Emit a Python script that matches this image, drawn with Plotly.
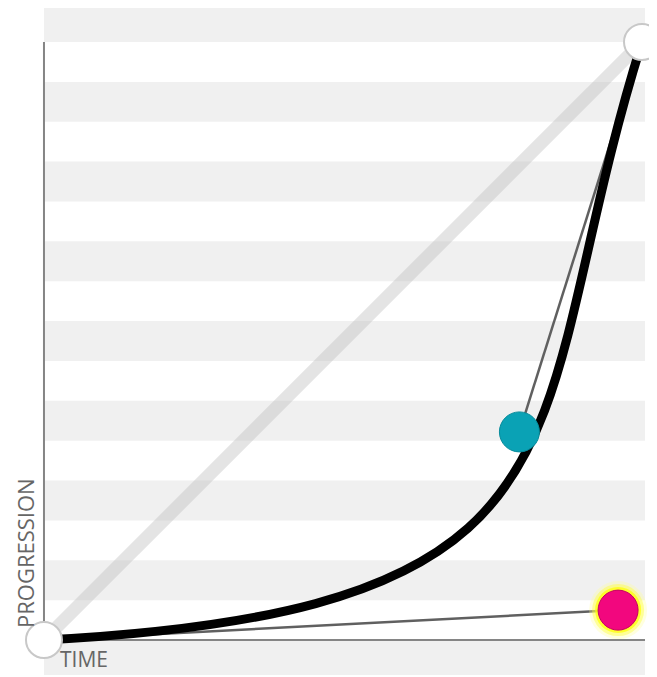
"""Cubic-bezier easing editor: progression over time with two control handles."""

import plotly.graph_objects as go

# Bezier anchor points (start / end) and control handles, in unit time/progression.
START = (0.0, 0.0)
END = (1.0, 1.0)
HANDLE_1 = (0.96, 0.05)  # pink handle, tied to the start point
HANDLE_2 = (0.795, 0.348)  # teal handle, tied to the end point

# Background stripe bands, in units of 1/15 of the progression axis.
STRIPE_STEP = 1 / 15
STRIPE_STARTS = [-1, 1, 3, 5, 7, 9, 11, 13, 15]

X_RANGE = [-0.01, 1.005]
Y_RANGE = [-0.0585, 1.0569]

_STRIPE = "#f0f0f0"
_AXIS = "#858585"
_HANDLE_LINE = "#606060"
_TEXT = "#666666"
_PINK = "#f2077e"
_TEAL = "#0aa2b5"
_FONT = "Open Sans"

shapes = []
for m in STRIPE_STARTS:
    y0 = max(m * STRIPE_STEP, Y_RANGE[0])
    y1 = min((m + 1) * STRIPE_STEP, Y_RANGE[1])
    shapes.append(dict(type="rect", xref="x", yref="y", x0=START[0], x1=X_RANGE[1], y0=y0, y1=y1,
                       fillcolor=_STRIPE, line_width=0, layer="below"))

# axis lines: y stops at progression 1, x runs the full stripe width
shapes.append(dict(type="line", xref="x", yref="y", x0=START[0], y0=START[1], x1=START[0], y1=END[1],
                   line=dict(color=_AXIS, width=2), layer="below"))
shapes.append(dict(type="line", xref="x", yref="y", x0=START[0], y0=START[1], x1=X_RANGE[1], y1=START[1],
                   line=dict(color=_AXIS, width=2), layer="below"))

# linear reference
shapes.append(dict(type="line", xref="x", yref="y", x0=START[0], y0=START[1], x1=END[0], y1=END[1],
                   line=dict(color="rgba(190,190,190,0.42)", width=13), layer="below"))

# handle arms
shapes.append(dict(type="line", xref="x", yref="y", x0=START[0], y0=START[1], x1=HANDLE_1[0], y1=HANDLE_1[1],
                   line=dict(color=_HANDLE_LINE, width=2.5), layer="below"))
shapes.append(dict(type="line", xref="x", yref="y", x0=END[0], y0=END[1], x1=HANDLE_2[0], y1=HANDLE_2[1],
                   line=dict(color=_HANDLE_LINE, width=2.5), layer="below"))

# the easing curve itself
path = (f"M {START[0]},{START[1]} C {HANDLE_1[0]},{HANDLE_1[1]} "
        f"{HANDLE_2[0]},{HANDLE_2[1]} {END[0]},{END[1]}")
shapes.append(dict(type="path", xref="x", yref="y", path=path,
                   line=dict(color="black", width=9), layer="below"))

fig = go.Figure()

# soft yellow glow behind the active handle
for size, col in [(58, "rgba(255,255,150,0.3)"), (52, "rgba(255,255,60,0.45)"), (46, "rgba(255,255,0,0.7)")]:
    fig.add_trace(go.Scatter(x=[HANDLE_1[0]], y=[HANDLE_1[1]], mode="markers",
                             marker=dict(size=size, color=col, line_width=0),
                             cliponaxis=False, hoverinfo="skip"))

fig.add_trace(go.Scatter(x=[HANDLE_1[0]], y=[HANDLE_1[1]], mode="markers",
                         marker=dict(size=40, color=_PINK, line=dict(color="#c4005f", width=1)),
                         cliponaxis=False))
fig.add_trace(go.Scatter(x=[HANDLE_2[0]], y=[HANDLE_2[1]], mode="markers",
                         marker=dict(size=40, color=_TEAL, line=dict(color="#078b9b", width=1)),
                         cliponaxis=False))
fig.add_trace(go.Scatter(x=[START[0], END[0]], y=[START[1], END[1]], mode="markers",
                         marker=dict(size=36, color="white", line=dict(color="#c8c8c8", width=2)),
                         cliponaxis=False))

# the page body adds an 8px margin, so the figure is sized and offset to land on the same pixels
fig.update_layout(
    width=649,
    height=669,
    margin=dict(l=30, r=12, t=0, b=2),
    paper_bgcolor="white",
    plot_bgcolor="white",
    showlegend=False,
    shapes=shapes,
    font=dict(family=_FONT, color=_TEXT, size=21),
    annotations=[
        dict(text="TIME", xref="x", yref="y", x=START[0], y=START[1], xanchor="left", yanchor="top",
             xshift=14, yshift=-3, showarrow=False, font=dict(family=_FONT, size=21, color=_TEXT)),
        dict(text="PROGRESSION", xref="x", yref="y", x=START[0], y=START[1], xanchor="center",
             yanchor="bottom", textangle=-90, xshift=-19, yshift=10, showarrow=False,
             font=dict(family=_FONT, size=22, color=_TEXT)),
    ],
)
fig.update_xaxes(range=X_RANGE, visible=False, fixedrange=True)
fig.update_yaxes(range=Y_RANGE, visible=False, fixedrange=True)

fig.write_html("out.html")
